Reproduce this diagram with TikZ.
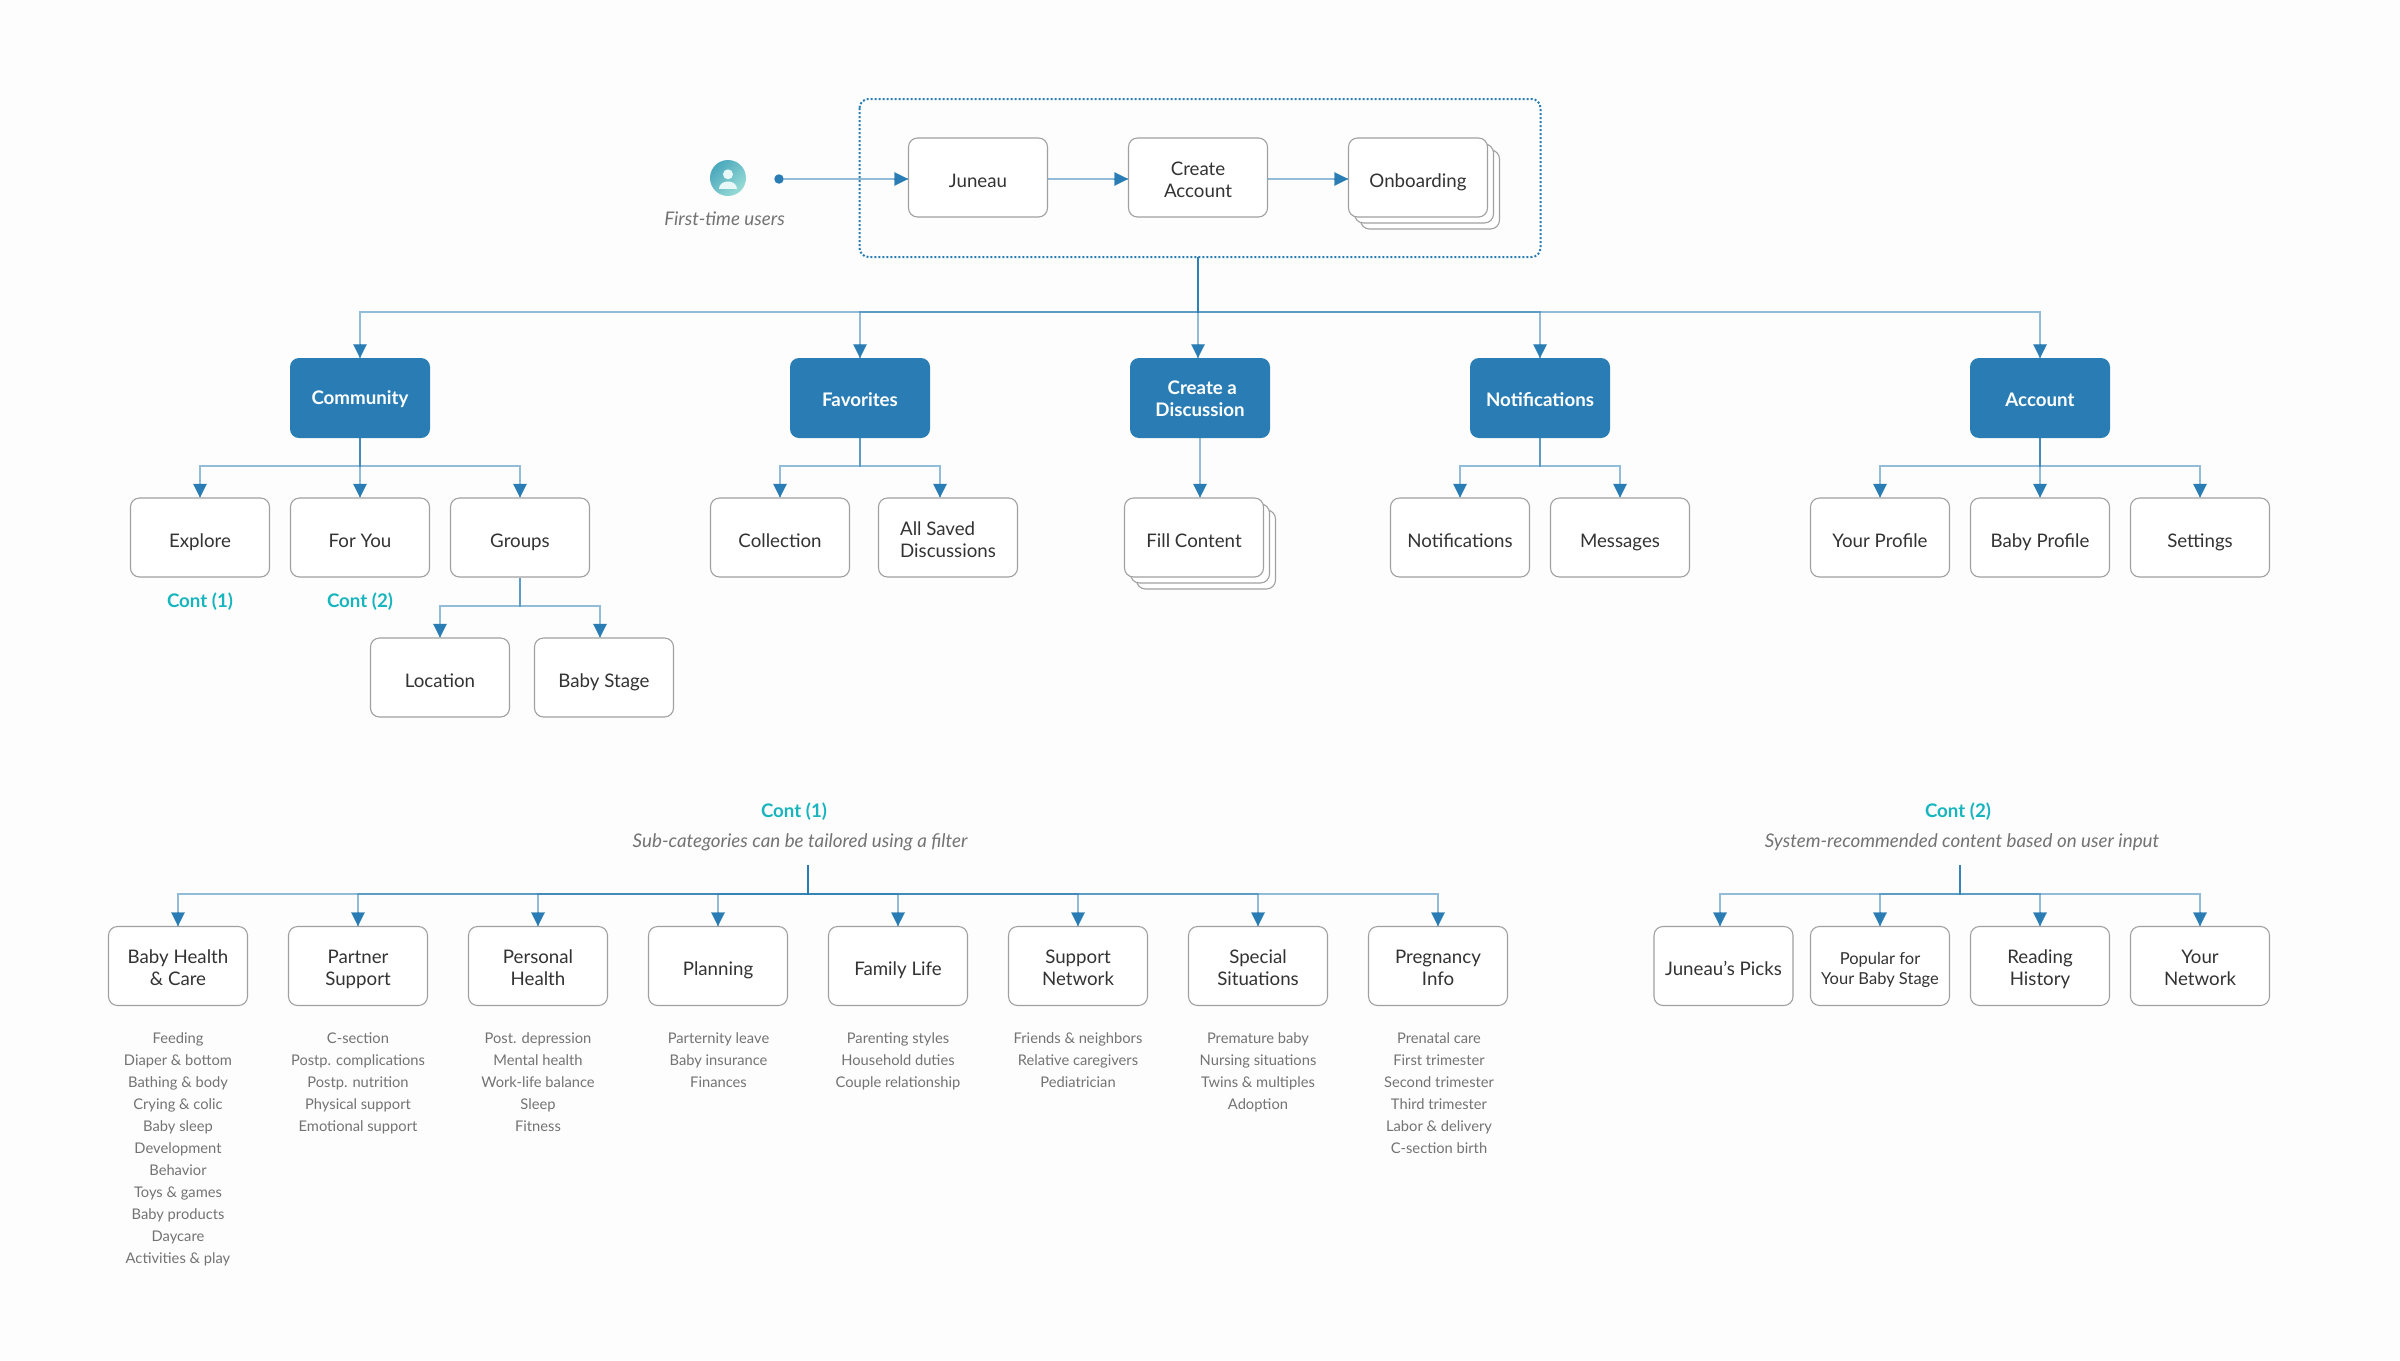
\documentclass[tikz,border=0pt]{standalone}
\usepackage{fontspec}
\setmainfont{Lato}
\usepackage{xcolor}
\usepackage{tikz}
\usetikzlibrary{arrows.meta,positioning}
\definecolor{pagegray}{RGB}{253, 253, 253}
\definecolor{linkblue}{RGB}{41, 125, 180}
\definecolor{boxgray}{RGB}{160, 160, 160}
\definecolor{inkgray}{RGB}{51, 51, 51}
\definecolor{notegray}{RGB}{115, 115, 115}
\definecolor{contteal}{RGB}{24, 181, 190}
\definecolor{icondark}{RGB}{74, 168, 188}
\definecolor{iconlight}{RGB}{152, 219, 214}
\definecolor{iconwhite}{RGB}{232, 247, 248}
\tikzset{
  pagebox/.style={align=center, inner sep=0pt, execute at begin node={\rule{0pt}{24pt}}, execute at end node={\rule[-5pt]{0pt}{5pt}}, draw=boxgray, line width=1.1pt, fill=white, rounded corners=9pt, minimum width=139pt, minimum height=79pt, text=inkgray, font=\fontsize{18.7}{22}\selectfont},
  topbox/.style={align=center, inner sep=0pt, execute at begin node={\rule{0pt}{21pt}}, execute at end node={\rule[-5pt]{0pt}{5pt}}, fill=linkblue, rounded corners=9pt, minimum width=140pt, minimum height=80pt, text=white, font=\fontsize{18.7}{22}\selectfont\bfseries},
  stacked/.style={draw=boxgray, line width=1.1pt, fill=white, rounded corners=9pt, minimum width=139pt, minimum height=79pt},
  contlabel/.style={text=contteal, font=\fontsize{18.7}{22}\selectfont\bfseries},
  notelabel/.style={text=notegray, font=\fontsize{18.8}{22}\selectfont\itshape},
  itemlist/.style={text=notegray, align=center, font=\fontsize{14.7}{22}\selectfont},
  link/.style={draw=linkblue, draw opacity=0.5, line width=2pt},
  head/.style={draw=linkblue, line width=0.1pt, -{Triangle[length=13.5pt,width=13.5pt,fill=linkblue]}}
}
% lifts the text of a filled box by 2pt
\newcommand{\liftup}{\rule[-9pt]{0pt}{9pt}}
% height of the first of two lines
\newcommand{\firstline}[1][22pt]{\rule{0pt}{#1}}
% parent, bus coordinate, child
\newcommand{\branch}[3]{
  \draw[link] (#1) -- (#1 |- #2) -| (#3);
  \path[head] (#3) ++(0,-13.5) -- (#3);
}
\begin{document}
\begin{tikzpicture}[x=1pt,y=-1pt]
  \fill[pagegray] (0,0) rectangle (2400,1360);
  \useasboundingbox (0,0) rectangle (2400,1360);

  % first-time users
  \shade[top color=icondark, bottom color=iconlight, shading angle=45] (728,178) circle (18);
  \fill[iconwhite] (728,174.3) circle (5);
  \fill[iconwhite] (719,189) .. controls (719,179) and (737,179) .. (737,189) -- cycle;
  \node[notelabel] (users) at (724.5,219) {First-time users};
  \node[circle, fill=linkblue, inner sep=0pt, minimum size=9.5pt] (start) at (779,179) {};

  % onboarding group
  \draw[draw=linkblue, line width=2pt, dotted, rounded corners=9pt] (859.5,99) rectangle (1540.5,257);
  \coordinate (groupout) at (1198,257);
  \node[pagebox] (juneau) at (978,177.5) {Juneau};
  \node[pagebox] (create) at (1198,177.5) {\firstline Create\\Account};
  \node[stacked] (onboardc) at (1430,189.5) {};
  \node[stacked] (onboardb) at (1424,183.5) {};
  \node[pagebox] (onboard) at (1418,177.5) {Onboarding};

  % main sections
  \node[topbox] (community) at (360,398) {Community\liftup};
  \node[topbox] (favorites) at (860,398) {Favorites};
  \node[topbox] (discussion) at (1200,398) {\firstline[20pt] Create a\\Discussion};
  \node[topbox] (notif) at (1540,398) {Notifications};
  \node[topbox] (account) at (2040,398) {Account};

  % second level
  \node[pagebox] (explore) at (200,537.5) {Explore};
  \node[pagebox] (foryou) at (360,537.5) {For You};
  \node[pagebox] (groups) at (520,537.5) {Groups};
  \node[contlabel] (contone) at (200,601.5) {Cont (1)};
  \node[contlabel] (conttwo) at (360,601.5) {Cont (2)};
  \node[pagebox] (location) at (440,677.5) {Location};
  \node[pagebox] (babystage) at (604,677.5) {Baby Stage};
  \node[pagebox] (collection) at (780,537.5) {Collection};
  \node[pagebox, align=left] (saved) at (948,537.5) {\firstline All Saved\\Discussions};
  \node[stacked] (fillc) at (1206,549.5) {};
  \node[stacked] (fillb) at (1200,543.5) {};
  \node[pagebox] (fill) at (1194,537.5) {Fill Content};
  \node[pagebox] (notiftwo) at (1460,537.5) {Notifications};
  \node[pagebox] (messages) at (1620,537.5) {Messages};
  \node[pagebox] (profile) at (1880,537.5) {Your Profile};
  \node[pagebox] (babyprofile) at (2040,537.5) {Baby Profile};
  \node[pagebox] (settings) at (2200,537.5) {Settings};

  % cont (1)
  \node[contlabel] (headone) at (794,811.5) {Cont (1)};
  \node[notelabel] (noteone) at (800,842) {Sub-categories can be tailored using a filter};
  \coordinate (stemone) at (808,865);
  \node[pagebox] (health) at (178,966) {\firstline Baby Health\\\& Care};
  \node[pagebox] (partner) at (358,966) {\firstline Partner\\Support};
  \node[pagebox] (personal) at (538,966) {\firstline Personal\\Health};
  \node[pagebox] (planning) at (718,966) {Planning};
  \node[pagebox] (family) at (898,966) {Family Life};
  \node[pagebox] (support) at (1078,966) {\firstline Support\\Network};
  \node[pagebox] (special) at (1258,966) {\firstline Special\\Situations};
  \node[pagebox] (pregnancy) at (1438,966) {\firstline Pregnancy\\Info};
  \node[itemlist, anchor=north] (healthlist) at (178,1029) {Feeding\\Diaper \& bottom\\Bathing \& body\\Crying \& colic\\Baby sleep\\Development\\Behavior\\Toys \& games\\Baby products\\Daycare\\Activities \& play};
  \node[itemlist, anchor=north] (partnerlist) at (358,1029) {C-section\\Postp. complications\\Postp. nutrition\\Physical support\\Emotional support};
  \node[itemlist, anchor=north] (personallist) at (538,1029) {Post. depression\\Mental health\\Work-life balance\\Sleep\\Fitness};
  \node[itemlist, anchor=north] (planninglist) at (718.5,1029) {Parternity leave\\Baby insurance\\Finances};
  \node[itemlist, anchor=north] (familylist) at (898,1029) {Parenting styles\\Household duties\\Couple relationship};
  \node[itemlist, anchor=north] (supportlist) at (1078,1029) {Friends \& neighbors\\Relative caregivers\\Pediatrician};
  \node[itemlist, anchor=north] (speciallist) at (1258,1029) {Premature baby\\Nursing situations\\Twins \& multiples\\Adoption};
  \node[itemlist, anchor=north] (pregnancylist) at (1439,1029) {Prenatal care\\First trimester\\Second trimester\\Third trimester\\Labor \& delivery\\C-section birth};

  % cont (2)
  \node[contlabel] (headtwo) at (1958,811.5) {Cont (2)};
  \node[notelabel] (notetwo) at (1962,842) {System-recommended content based on user input};
  \coordinate (stemtwo) at (1960,865);
  \node[pagebox] (picks) at (1723.5,966) {Juneau’s Picks};
  \node[pagebox, font=\fontsize{16.5}{20}\selectfont] (popular) at (1880,966) {\firstline Popular for\\Your Baby Stage};
  \node[pagebox] (reading) at (2040,966) {\firstline Reading\\History};
  \node[pagebox] (network) at (2200,966) {\firstline Your\\Network};

  % bus heights
  \coordinate (bustop) at (0,312);
  \coordinate (buscomm) at (0,466);
  \coordinate (busgroups) at (0,606);
  \coordinate (buscont) at (0,894);

  % connecting arrows
  \draw[link] (start) -- (start -| juneau.west);
  \path[head] ([xshift=-13.5pt]start -| juneau.west) -- (start -| juneau.west);
  \draw[link] (start -| juneau.east) -- (start -| create.west);
  \path[head] ([xshift=-13.5pt]start -| create.west) -- (start -| create.west);
  \draw[link] (start -| create.east) -- (start -| onboard.west);
  \path[head] ([xshift=-13.5pt]start -| onboard.west) -- (start -| onboard.west);

  \branch{groupout}{bustop}{community.north}
  \branch{groupout}{bustop}{favorites.north}
  \branch{groupout}{bustop}{[xshift=-2pt]discussion.north}
  \branch{groupout}{bustop}{notif.north}
  \branch{groupout}{bustop}{account.north}

  \branch{community.south}{buscomm}{explore.north}
  \branch{community.south}{buscomm}{foryou.north}
  \branch{community.south}{buscomm}{groups.north}
  \branch{groups.south}{busgroups}{location.north}
  \branch{groups.south}{busgroups}{[xshift=-4pt]babystage.north}

  \branch{favorites.south}{buscomm}{collection.north}
  \branch{favorites.south}{buscomm}{[xshift=-8pt]saved.north}
  \branch{discussion.south}{buscomm}{[xshift=6pt]fill.north}
  \branch{notif.south}{buscomm}{notiftwo.north}
  \branch{notif.south}{buscomm}{messages.north}
  \branch{account.south}{buscomm}{profile.north}
  \branch{account.south}{buscomm}{babyprofile.north}
  \branch{account.south}{buscomm}{settings.north}

  \branch{stemone}{buscont}{health.north}
  \branch{stemone}{buscont}{partner.north}
  \branch{stemone}{buscont}{personal.north}
  \branch{stemone}{buscont}{planning.north}
  \branch{stemone}{buscont}{family.north}
  \branch{stemone}{buscont}{support.north}
  \branch{stemone}{buscont}{special.north}
  \branch{stemone}{buscont}{pregnancy.north}

  \branch{stemtwo}{buscont}{[xshift=-3.5pt]picks.north}
  \branch{stemtwo}{buscont}{popular.north}
  \branch{stemtwo}{buscont}{reading.north}
  \branch{stemtwo}{buscont}{network.north}
\end{tikzpicture}
\end{document}
